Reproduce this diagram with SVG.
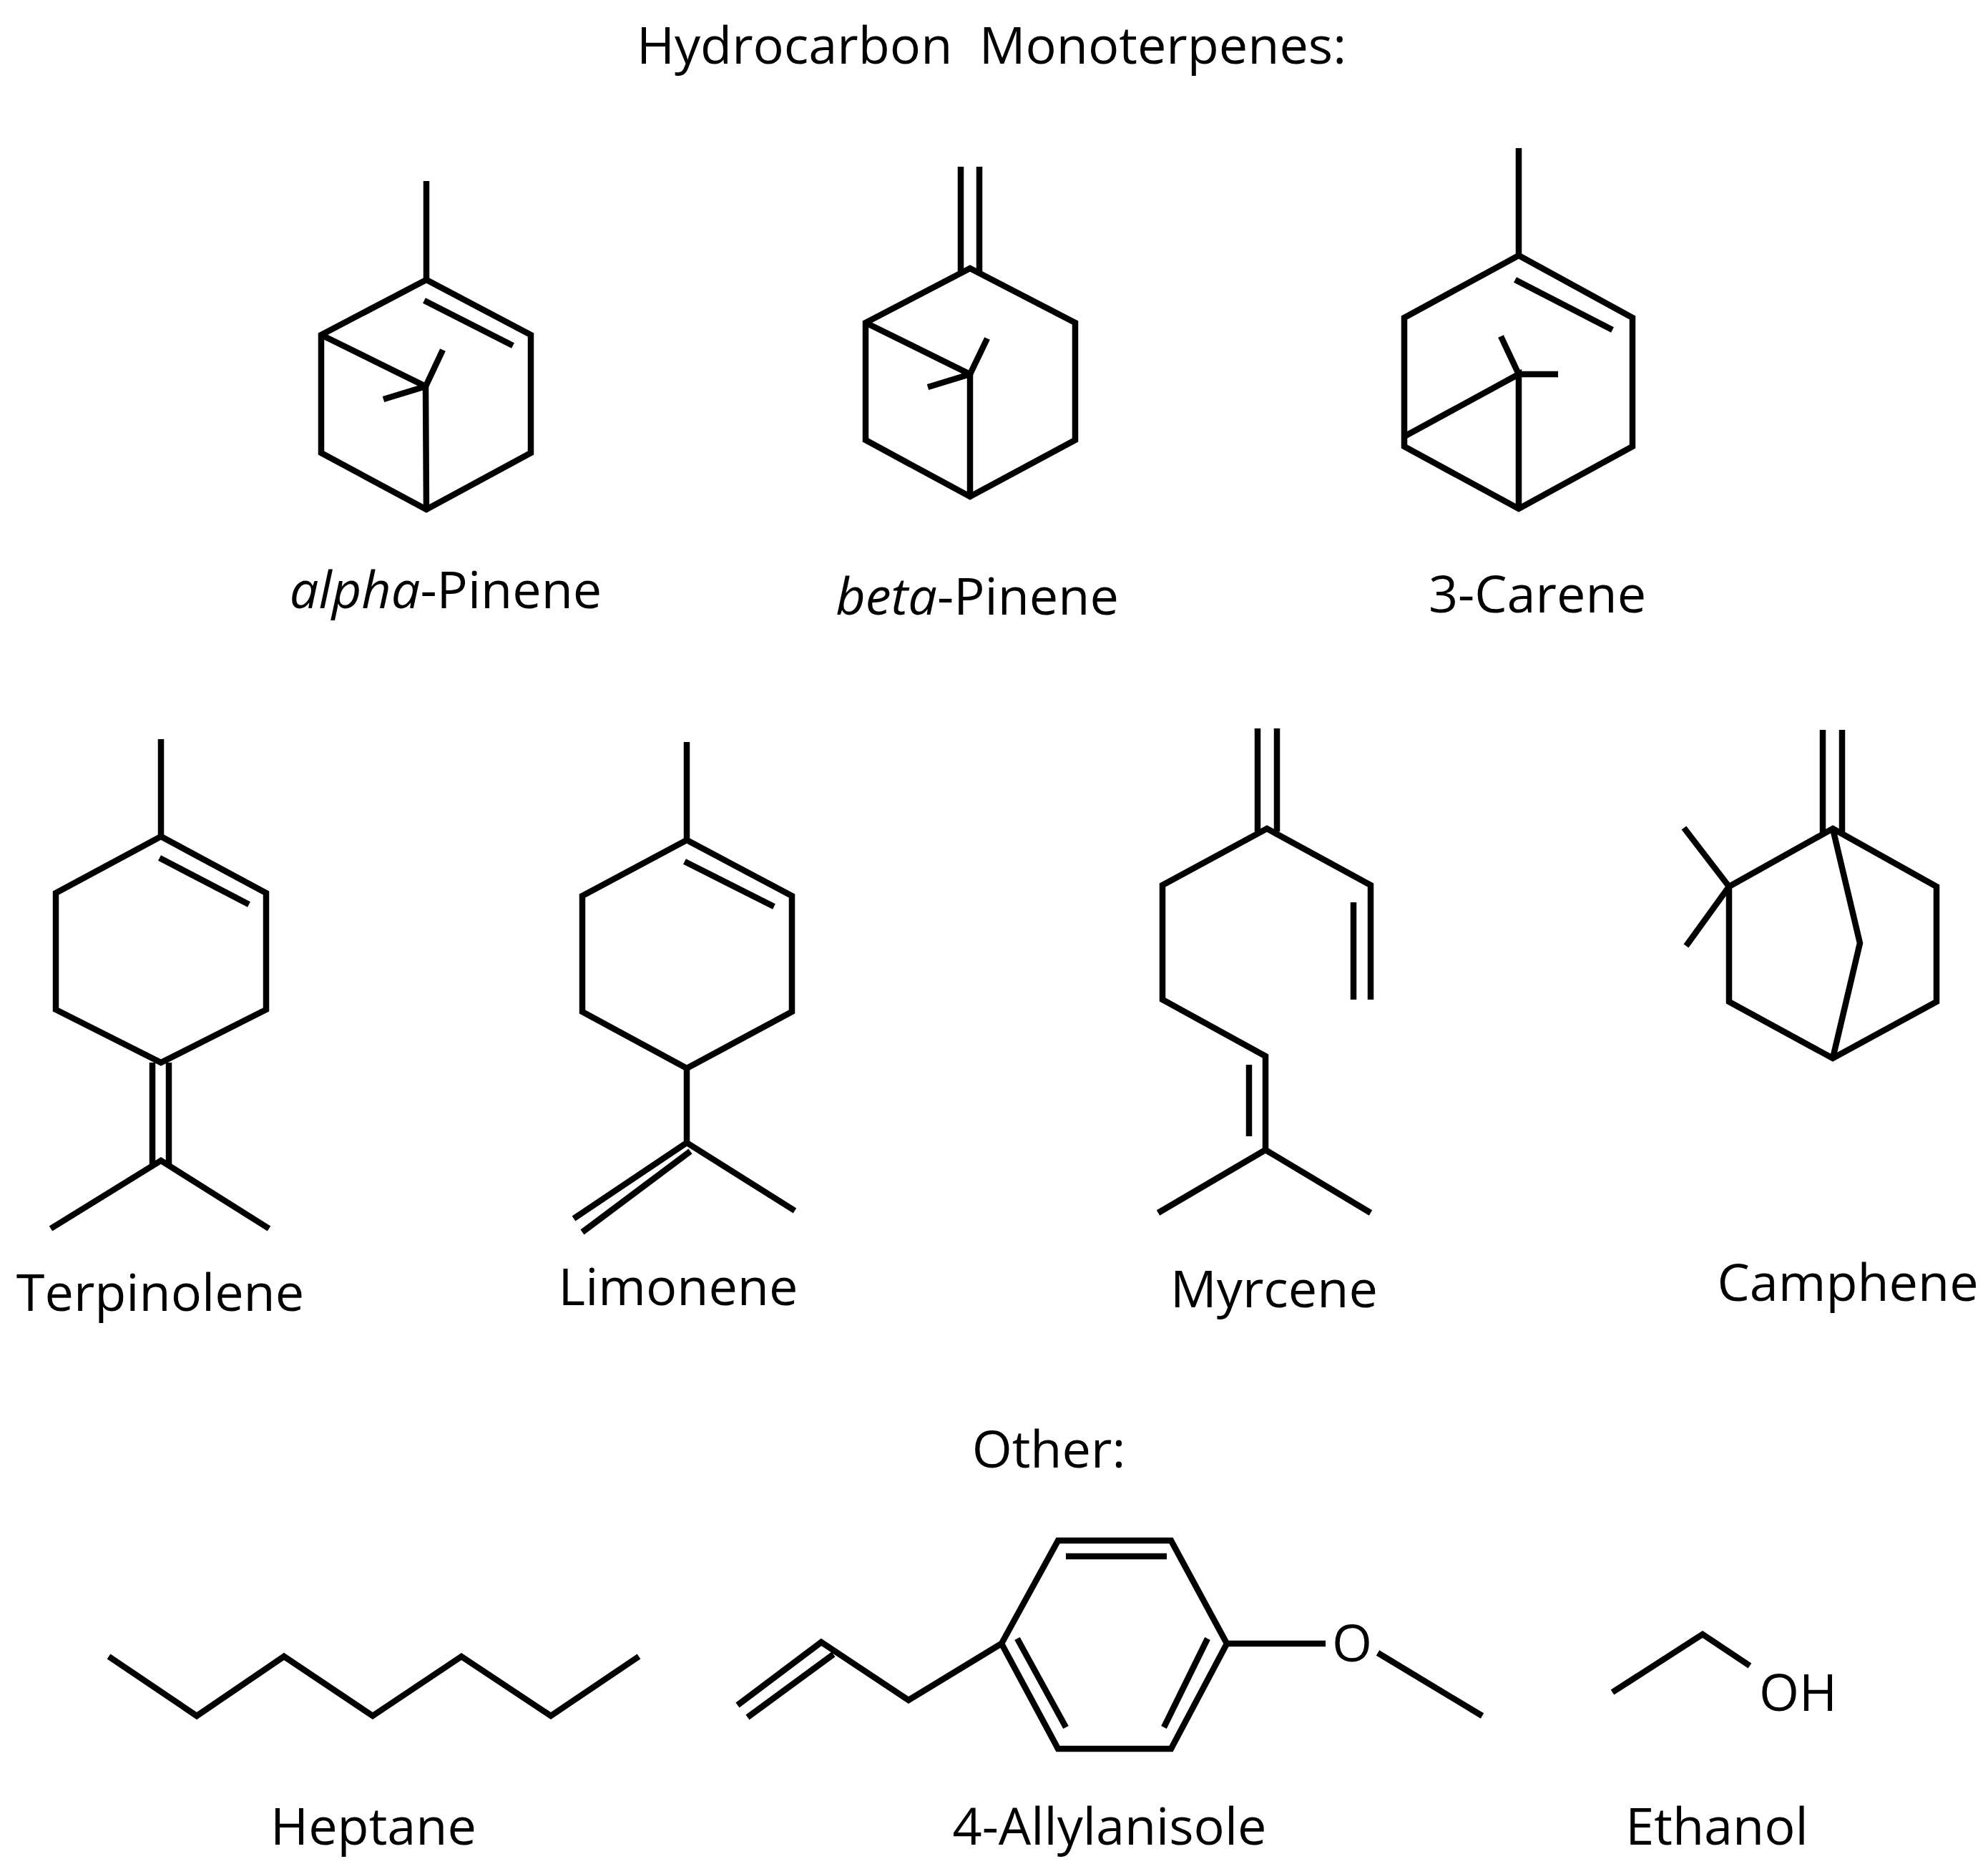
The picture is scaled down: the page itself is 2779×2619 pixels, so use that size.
<svg xmlns="http://www.w3.org/2000/svg" width="2779" height="2619" viewBox="0 0 2779 2619">
<style>
.b{fill:none;stroke:#000;stroke-width:8.5;stroke-linejoin:miter;stroke-linecap:butt}
text{font-family:"Open Sans","Liberation Sans",sans-serif;font-size:72px;fill:#000}
.c{text-anchor:middle}
</style>
<rect width="2779" height="2619" fill="#fff"/>
<text class="c" x="1386" y="89" xml:space="preserve">Hydrocarbon  Monoterpenes:</text>
<text class="c" x="1466" y="2051">Other:</text>
<g id="alpha-pinene" class="b">
<path d="M596,253 L596,391"/>
<path d="M596,391 L742,468 L742,633 L596,712 L449,633 L449,468 Z"/>
<path d="M449,468 L595,540 L596,712"/>
<path d="M595,540 L619,489 M595,540 L536,558"/>
<path d="M593,420 L717,483"/>
<text class="c" x="623" y="850" stroke="none"><tspan font-style="italic">alpha</tspan>-Pinene</text>
</g>
<g id="beta-pinene" class="b">
<path d="M1343,233 L1343,380 M1369,233 L1369,380"/>
<path d="M1356,375 L1503,451 L1503,615 L1356,694 L1210,615 L1210,451 Z"/>
<path d="M1210,451 L1356,523 L1356,694"/>
<path d="M1356,523 L1380,473 M1356,523 L1297,541"/>
<text class="c" x="1366" y="859" stroke="none"><tspan font-style="italic">beta</tspan>-Pinene</text>
</g>
<g id="carene" class="b">
<path d="M2123,207 L2123,357"/>
<path d="M2123,357 L2282,444 L2282,624 L2123,711 L1963,624 L1963,444 Z"/>
<path d="M1963,610 L2123,523 L2123,711"/>
<path d="M2123,523 L2098,470 M2123,523 L2178,523"/>
<path d="M2118,391 L2254,461"/>
<text class="c" x="2149" y="856" stroke="none">3-Carene</text>
</g>
<g id="terpinolene" class="b">
<path d="M225,1033 L225,1169"/>
<path d="M225,1169 L372,1248 L372,1411 L225,1485 L78,1411 L78,1248 Z"/>
<path d="M223,1199 L348,1264"/>
<path d="M213,1485 L213,1627 M236,1485 L236,1627"/>
<path d="M71,1717 L225,1622 L376,1717"/>
<text class="c" x="224" y="1832" stroke="none">Terpinolene</text>
</g>
<g id="limonene" class="b">
<path d="M960,1037 L960,1174"/>
<path d="M960,1174 L1107,1252 L1107,1414 L960,1493 L814,1414 L814,1252 Z"/>
<path d="M957,1204 L1082,1267"/>
<path d="M960,1493 L960,1597 L1111,1692 M960,1597 L802,1703 M965,1609 L814,1722"/>
<text class="c" x="948" y="1824" stroke="none">Limonene</text>
</g>
<g id="myrcene" class="b">
<path d="M1758,1018 L1758,1162 M1785,1018 L1785,1162"/>
<path d="M1916,1397 L1916,1237 L1771,1158 L1625,1237 L1625,1397 L1769,1476 L1769,1607"/>
<path d="M1892,1261 L1892,1397 M1746,1488 L1746,1588"/>
<path d="M1619,1695 L1769,1607 L1916,1695"/>
<text class="c" x="1781" y="1827" stroke="none">Myrcene</text>
</g>
<g id="camphene" class="b">
<path d="M2548,1020 L2548,1165 M2575,1020 L2575,1165"/>
<path d="M2562,1158 L2707,1239 L2707,1400 L2562,1479 L2417,1400 L2417,1239 Z"/>
<path d="M2562,1158 L2600,1318 L2562,1479"/>
<path d="M2354,1157 L2417,1239 L2357,1322"/>
<text class="c" x="2583" y="1818" stroke="none">Camphene</text>
</g>
<g id="heptane" class="b">
<path d="M152,2315 L275,2398 L397,2315 L521,2398 L645,2315 L770,2398 L893,2315"/>
<text class="c" x="522" y="2578" stroke="none">Heptane</text>
</g>
<g id="allylanisole" class="b">
<path d="M1031,2383 L1148,2295 L1270,2376 L1400,2297 M1045,2400 L1165,2312"/>
<path d="M1400,2297 L1479,2153 L1637,2153 L1715,2297 L1637,2444 L1479,2444 Z"/>
<path d="M1490,2175 L1631,2175 M1422,2290 L1490,2414 M1688,2290 L1627,2414"/>
<path d="M1715,2297 L1853,2297 M1926,2310 L2072,2398"/>
<text class="c" x="1890" y="2322" stroke="none">O</text>
<text class="c" x="1551" y="2578" stroke="none">4-Allylanisole</text>
</g>
<g id="ethanol" class="b">
<path d="M2254,2365 L2380,2284 L2446,2328"/>
<text x="2459" y="2391" stroke="none">OH</text>
<text class="c" x="2400" y="2578" stroke="none">Ethanol</text>
</g>
<g id="connectors"/>
</svg>
